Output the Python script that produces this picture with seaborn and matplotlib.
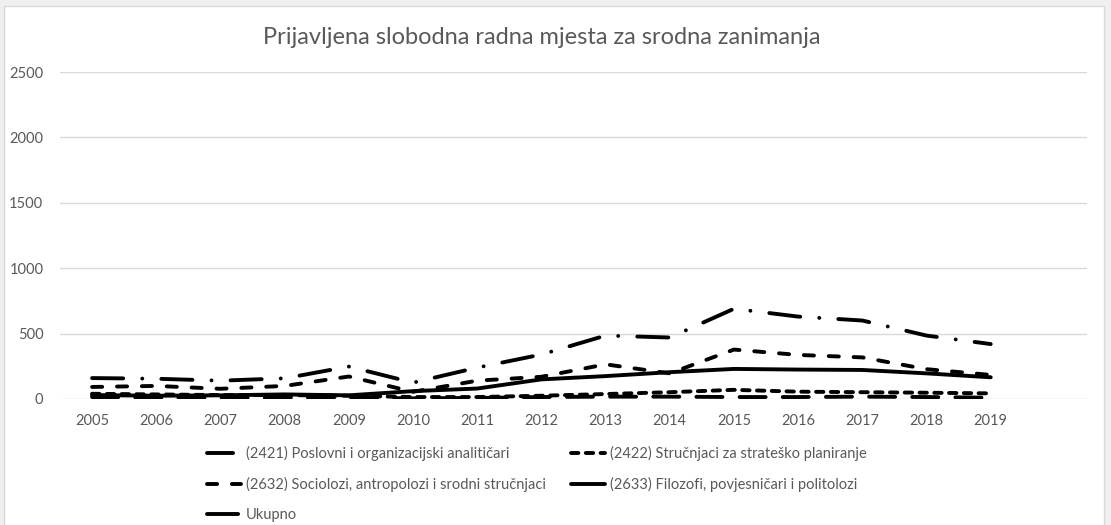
import numpy as np
import pandas as pd
import matplotlib
matplotlib.use("Agg")
import matplotlib.pyplot as plt
import seaborn as sns

sns.set_theme(style="white")
plt.rcParams['font.family'] = ['Lato', 'DejaVu Sans']

years = list(range(2005, 2020))
s2421 = [15, 10, 12, 10, 10, 5, 8, 15, 18, 18, 15, 15, 18, 15, 10]
s2422 = [40, 35, 30, 30, 25, 15, 15, 25, 38, 52, 70, 56, 52, 48, 43]
s2632 = [92, 100, 78, 100, 172, 55, 140, 170, 265, 196, 378, 337, 318, 228, 184]
s2633 = [30, 25, 28, 35, 28, 60, 80, 150, 175, 205, 230, 225, 222, 196, 166]
ukupno = [160, 155, 140, 158, 248, 125, 240, 340, 485, 470, 690, 630, 600, 485, 420]

names = ['(2421) Poslovni i organizacijski analitičari',
         '(2422) Stručnjaci za strateško planiranje',
         '(2632) Sociolozi, antropolozi i srodni stručnjaci',
         '(2633) Filozofi, povjesničari i politolozi',
         'Ukupno']
series = [s2421, s2422, s2632, s2633, ukupno]
styles = [(0, (6.7, 4.4)), (0, (1.9, 1.9)), (0, (2.6, 3.8)), '-',
          (0, (8, 4.9, 0.01, 4.9))]

grey = '#595959'
fig = plt.figure(figsize=(11.11, 5.25), dpi=100, facecolor='#f0f0f0')
fig.patches.append(plt.Rectangle((4 / 1111, -0.01), 1100 / 1111, 1 - 6 / 525 + 0.01,
                                 transform=fig.transFigure, facecolor='white',
                                 edgecolor='#d9d9d9', linewidth=1, zorder=-1))
ax = fig.add_axes([60 / 1111, 1 - 399 / 525, 1027 / 1111, 327 / 525])
ax.set_facecolor('none')

for name, vals, ls in zip(names, series, styles):
    sns.lineplot(x=years, y=vals, ax=ax, color='black', linewidth=2.8,
                 linestyle=ls, label=name, dash_capstyle='round',
                 solid_capstyle='round')

ax.set_xlim(2004.5, 2020.5)
ax.set_ylim(0, 2500)
ax.set_xticks(years)
ax.set_yticks(range(0, 2501, 500))
ax.yaxis.grid(True, color='#d9d9d9', linewidth=1)
ax.xaxis.grid(False)
for sp in ax.spines.values():
    sp.set_visible(False)
ax.tick_params(axis='both', length=0, labelsize=10.5, labelcolor=grey)
ax.tick_params(axis='y', pad=12)
ax.tick_params(axis='x', pad=11)
ax.set_xlabel('')
ax.set_ylabel('')

fig.text(0.488, 1 - 38 / 525, 'Prijavljena slobodna radna mjesta za srodna zanimanja',
         ha='center', va='center', fontsize=17, color=grey)

handles, labels = ax.get_legend_handles_labels()
ax.get_legend().remove()
order = [0, 2, 4, 1, 3]
fig.legend([handles[i] for i in order], [labels[i] for i in order],
           loc='upper left', bbox_to_anchor=(207 / 1111, 1 - 446 / 525), ncol=2,
           frameon=False, fontsize=10.5, labelcolor=grey, handlelength=2.35,
           handletextpad=0.3, columnspacing=1.75, labelspacing=1.08,
           borderaxespad=0, borderpad=0)

fig.savefig('out.png', dpi=100, facecolor=fig.get_facecolor())
